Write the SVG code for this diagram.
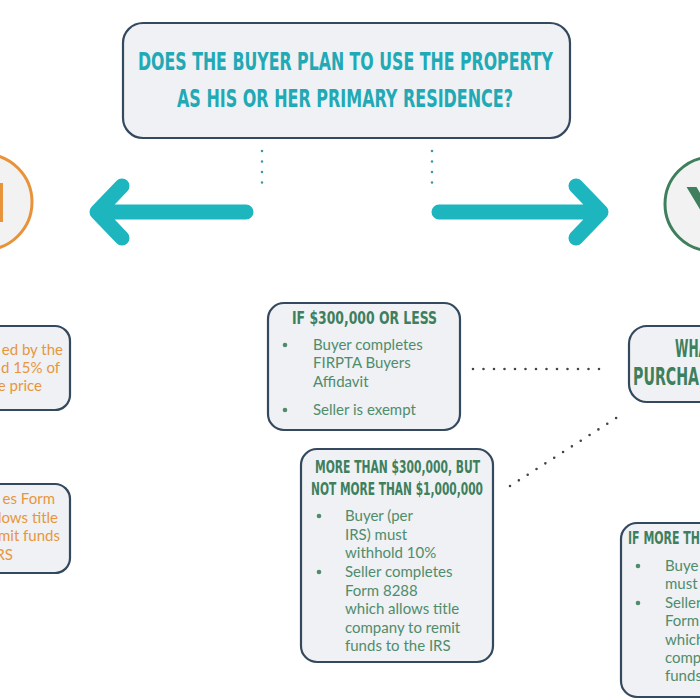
<svg xmlns="http://www.w3.org/2000/svg" width="700" height="700" viewBox="0 0 700 700">
<style>
.box{fill:#eff1f4;stroke:#34495e;stroke-width:2.2}
.hd{font-family:'Liberation Sans Narrow','DejaVu Sans Condensed','Liberation Sans',sans-serif;font-weight:bold;font-stretch:condensed}
.teal{fill:#21a9b5}
.grn{fill:#3e7f5e}
.body{font-family:Lato,'Liberation Sans',sans-serif;font-size:15px;fill:#4f8c6c}
.org{font-family:Lato,'Liberation Sans',sans-serif;font-size:15px;fill:#e8963c}
.bul{fill:#4f8c6c}
.arrow{fill:none;stroke:#1db6be;stroke-width:15;stroke-linecap:round;stroke-linejoin:round}
.dots{fill:none;stroke-linecap:round;stroke-dasharray:0 10.5;stroke-width:2.6}
</style>
<rect width="700" height="700" fill="#ffffff"/>
<g id="connectors">
<path class="dots" stroke="#3a9aa5" d="M262,151 V193"/>
<path class="dots" stroke="#3a9aa5" d="M432,151 V193"/>
<path class="arrow" d="M246,212 H97 M122,186 L97,212 L122,238"/>
<path class="arrow" d="M439,212 H601 M576,186 L601,212 L576,238"/>
<path class="dots" stroke="#444" d="M473,369 H609"/>
<path class="dots" stroke="#444" d="M510,486 L624,413"/>
</g>
<g id="question">
<rect class="box" x="123" y="23" width="447" height="115" rx="20" stroke-width="3"/>
<text class="hd teal" x="138" y="70" font-size="25" textLength="415" lengthAdjust="spacingAndGlyphs">DOES THE BUYER PLAN TO USE THE PROPERTY</text>
<text class="hd teal" x="177" y="107" font-size="25" textLength="336" lengthAdjust="spacingAndGlyphs">AS HIS OR HER PRIMARY RESIDENCE?</text>
</g>
<g id="no">
<circle cx="-16" cy="202" r="48" fill="#f2f2f2" stroke="#e8923a" stroke-width="3"/>
<text class="hd" x="-30" y="222" font-size="54" fill="#e8923a" textLength="37" lengthAdjust="spacingAndGlyphs">N</text>
</g>
<g id="yes">
<circle cx="712" cy="204" r="47" fill="#f2f2f2" stroke="#3e7f5e" stroke-width="3"/>
<text class="hd grn" x="687" y="226" font-size="54">Y</text>
</g>
<g id="no-box1">
<rect class="box" x="-150" y="326" width="220" height="84" rx="15"/>
<text class="org" x="63" y="355" text-anchor="end">ed  by the</text>
<text class="org" x="60" y="373" text-anchor="end">d 15% of</text>
<text class="org" x="42" y="391" text-anchor="end">e price</text>
</g>
<g id="no-box2">
<rect class="box" x="-150" y="484" width="220" height="89" rx="15"/>
<text class="org" x="55" y="504" text-anchor="end">es Form</text>
<text class="org" x="58" y="523" text-anchor="end">lows title</text>
<text class="org" x="60" y="541" text-anchor="end">mit funds</text>
<text class="org" x="13" y="560" text-anchor="end">RS</text>
</g>
<g id="under-300k">
<rect class="box" x="268" y="303" width="192" height="127" rx="16"/>
<text class="hd grn" x="292" y="324" font-size="18" textLength="145" lengthAdjust="spacingAndGlyphs">IF $300,000 OR LESS</text>
<circle class="bul" cx="285" cy="345" r="2.3"/>
<text class="body" x="313" y="350">Buyer completes</text>
<text class="body" x="313" y="368">FIRPTA Buyers</text>
<text class="body" x="313" y="387">Affidavit</text>
<circle class="bul" cx="285" cy="410" r="2.3"/>
<text class="body" x="313" y="415">Seller is exempt</text>
</g>
<g id="300k-1m">
<rect class="box" x="301" y="449" width="192" height="213" rx="16"/>
<text class="hd grn" x="315" y="473" font-size="17" textLength="165" lengthAdjust="spacingAndGlyphs">MORE THAN $300,000, BUT</text>
<text class="hd grn" x="311" y="495" font-size="17" textLength="172" lengthAdjust="spacingAndGlyphs">NOT MORE THAN $1,000,000</text>
<circle class="bul" cx="319" cy="516" r="2.3"/>
<text class="body" x="345" y="521">Buyer (per</text>
<text class="body" x="345" y="540">IRS) must</text>
<text class="body" x="345" y="558">withhold 10%</text>
<circle class="bul" cx="319" cy="572" r="2.3"/>
<text class="body" x="345" y="577">Seller completes</text>
<text class="body" x="345" y="596">Form 8288</text>
<text class="body" x="345" y="614">which allows title</text>
<text class="body" x="345" y="633">company to remit</text>
<text class="body" x="345" y="651">funds to the IRS</text>
</g>
<g id="what-price">
<rect class="box" x="629" y="326" width="200" height="76" rx="18"/>
<text class="hd grn" x="675" y="357" font-size="25" textLength="33" lengthAdjust="spacingAndGlyphs">WHA</text>
<text class="hd grn" x="633" y="385" font-size="25" textLength="66" lengthAdjust="spacingAndGlyphs">PURCHA</text>
</g>
<g id="over-1m">
<rect class="box" x="621" y="523" width="200" height="174" rx="16"/>
<text class="hd grn" x="628" y="544" font-size="17" textLength="72" lengthAdjust="spacingAndGlyphs">IF MORE TH</text>
<circle class="bul" cx="638" cy="566" r="2.3"/>
<text class="body" x="665" y="571">Buye</text>
<text class="body" x="665" y="589">must</text>
<circle class="bul" cx="638" cy="603" r="2.3"/>
<text class="body" x="665" y="608">Seller</text>
<text class="body" x="665" y="626">Form</text>
<text class="body" x="665" y="645">which</text>
<text class="body" x="665" y="663">comp</text>
<text class="body" x="665" y="681">funds</text>
</g>
</svg>
